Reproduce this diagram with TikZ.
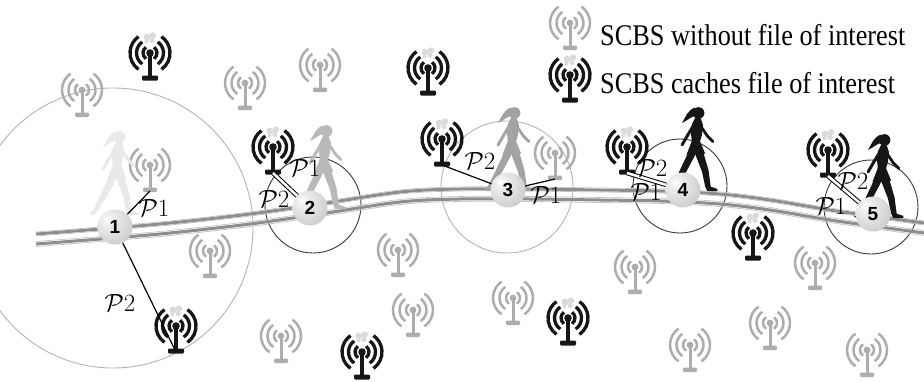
\documentclass[tikz,border=0pt]{standalone}
\usepackage{fontspec}
\setmainfont{Liberation Serif}
\newfontfamily\numfont{Liberation Sans}
\definecolor{antgray}{HTML}{ADADAD}
\definecolor{antblack}{HTML}{161616}
\definecolor{ringdark}{HTML}{3A3A3A}
\definecolor{ringlight}{HTML}{B4B4B4}
\definecolor{roadgray}{HTML}{8E8E8E}

% soft grey sphere used for the user positions
\pgfdeclareradialshading{sphere}{\pgfpoint{-12bp}{12bp}}{%
  color(0bp)=(white); color(7bp)=(gray!12); color(30bp)=(gray!36);
  color(48bp)=(gray!52); color(70bp)=(gray!62)}

% three pairs of radio waves round the antenna tip
\newcommand\radiowaves[1]{%
  \foreach \r in {7,13.5,20}{%
    \draw[line width=#1] (55:\r) arc[start angle=55,end angle=-55,radius=\r];
    \draw[line width=#1] (125:\r) arc[start angle=125,end angle=235,radius=\r];
  }}

% the brushed road centre line
\newcommand\roadline{plot[smooth,tension=0.55] coordinates {(36,239) (100,234) (170,228) (250,219) (320,209) (400,197) (460,194) (530,194) (600,195) (660,196) (720,199) (770,205) (830,215) (880,222) (924,228)}}

\tikzset{
  gant/.pic={
    \begin{scope}[color=antgray]
      \radiowaves{2.5}
      \fill (0,0) circle (3.4);
      \fill (-1.5,0) rectangle (1.5,24);
      \fill[rounded corners=1.2] (-7,22.5) rectangle (7,27);
      \coordinate (-base) at (0,26);
    \end{scope}
  },
  kant/.pic={
    \begin{scope}[color=antblack]
      \fill[gray!28] (-3,-16) circle (3.4) (3,-17.5) circle (3.2) (2,-12.5) circle (2.6) (-3.5,-11.5) circle (2);
      \radiowaves{3.3}
      \fill (0,0) circle (3.8);
      \fill (-1.7,0) rectangle (1.7,24);
      \fill[rounded corners=1.2] (-8,22.5) rectangle (8,27.5);
      \coordinate (-base) at (0,26);
    \end{scope}
  },
  walker/.pic={
    \fill (6,-70) circle (5.3);
    \fill (3,-75) .. controls (-4,-73) and (-6,-66) .. (-9,-61) .. controls (-3,-64) and (0,-67) .. (2,-67) -- cycle;
    \fill (3,-66) -- (8,-65) -- (10,-59) -- (9,-50) -- (7,-43) -- (0,-43) -- (-1,-52) -- (0,-60) -- cycle;
    \fill (0,-45) -- (7,-45) -- (12,-33) -- (-5,-32) -- cycle;
    \fill (-3,-35) -- (4,-34) -- (-5,-17) -- (-14,-3) -- (-17,1) -- (-22,0) -- (-18,-4) -- (-11,-18) -- cycle;
    \fill (2,-35) -- (10,-35) -- (15,-18) -- (17,-3) -- (23,-1) -- (23,1) -- (14,1) -- (12,-3) -- (9,-17) -- cycle;
    \draw[line width=3, line cap=round, line join=round] (1,-58) -- (-5,-48) -- (-9,-41);
    \draw[line width=2.8, line cap=round, line join=round] (8,-58) -- (14,-49) -- (19,-44);
  },
  ring/.style={line width=0.9},
  ue/.style={circle, minimum size=35pt, inner sep=0pt, shading=sphere,
    font=\numfont\bfseries\fontsize{19}{19}\selectfont},
  link/.style={line width=1.2, color=black},
  dlink/.style={line width=1, double=white, double distance=2.6pt},
  plab/.style={font=\fontsize{24.88}{25}\selectfont, inner sep=0pt},
  legend/.style={anchor=base west, inner sep=0pt, font=\fontsize{30}{30}\selectfont}
}

\begin{document}
\begin{tikzpicture}[x=1pt,y=-1pt]
\clip (0,0) rectangle (924,381);
\fill[white] (0,0) rectangle (924,381);

% coverage rings of the five serving positions
\draw[ring, ringlight] (113,228) circle (140);
\draw[ring, ringdark]  (313,205) circle (48);
\draw[ring, ringlight] (507,187) circle (66);
\draw[ring, ringdark]  (680,186) circle (47);
\draw[ring, ringdark]  (871,207) circle (47);

% brushed road, two strands
\begin{scope}[yshift=5pt]
  \draw[roadgray, line width=3] \roadline;
\end{scope}
\begin{scope}[yshift=7pt]
  \draw[gray!45, line width=0.8] \roadline;
\end{scope}
\begin{scope}[yshift=3pt]
  \draw[gray!50, line width=0.7] \roadline;
\end{scope}
\begin{scope}[yshift=-5pt]
  \draw[roadgray, line width=3] \roadline;
\end{scope}
\begin{scope}[yshift=-7.5pt]
  \draw[gray!45, line width=0.8] \roadline;
\end{scope}
\begin{scope}[yshift=-2.5pt]
  \draw[gray!50, line width=0.6] \roadline;
\end{scope}

% small cells without the file
\pic (g1)  at (82,90)   {gant};
\pic (g2)  at (245,83)  {gant};
\pic (g3)  at (320,65)  {gant};
\pic (g4)  at (570,23)  {gant};
\pic (g5)  at (150,165) {gant};
\pic (g6)  at (210,251) {gant};
\pic (g7)  at (281,336) {gant};
\pic (g8)  at (555,153) {gant};
\pic (g9)  at (398,250) {gant};
\pic (g10) at (413,310) {gant};
\pic (g11) at (513,298) {gant};
\pic (g12) at (635,267) {gant};
\pic (g13) at (815,263) {gant};
\pic (g14) at (770,323) {gant};
\pic (g15) at (690,345) {gant};
\pic (g16) at (867,350) {gant};

% small cells caching the file
\pic (k1)  at (150,53)  {kant};
\pic (k2)  at (428,68)  {kant};
\pic (k3)  at (570,75)  {kant};
\pic (k4)  at (176,326) {kant};
\pic (k5)  at (273,147) {kant};
\pic (k6)  at (442,139) {kant};
\pic (k7)  at (627,147) {kant};
\pic (k8)  at (828,150) {kant};
\pic (k9)  at (753,233) {kant};
\pic (k10) at (362,352) {kant};
\pic (k11) at (568,318) {kant};

% the user walking along the road
\pic[scale=1.1, color=gray!17] at (113,214) {walker};
\pic[scale=1.1, color=gray!55] at (320,208) {walker};
\pic[scale=1.1, color=gray!72] at (508,190) {walker};
\pic[scale=1.1, color=antblack] at (692,190) {walker};
\pic[scale=1.1, color=antblack] at (878,217) {walker};

% user positions
\node[ue] (b1) at (115,227) {1};
\node[ue] (b2) at (310,208) {2};
\node[ue] (b3) at (508,190) {3};
\node[ue] (b4) at (683,190) {4};
\node[ue] (b5) at (873,214) {5};

% links to the serving cells
\draw[link] (b1) -- (g5-base);
\draw[link] (b1) -- (k4-base);
\draw[dlink] (k5-base) -- (b2);
\draw[link] (k6-base) -- (b3);
\draw[link] (b3) -- (g8-base);
\draw[dlink] (k7-base) -- (b4);
\draw[dlink] (k8-base) -- (b5);

% link labels
\node[plab] at (154,208) {$\mathcal{P}1$};
\node[plab] at (120,303) {$\mathcal{P}2$};
\node[plab] at (305,168) {$\mathcal{P}1$};
\node[plab] at (274,199) {$\mathcal{P}2$};
\node[plab] at (480,161) {$\mathcal{P}2$};
\node[plab] at (546,195) {$\mathcal{P}1$};
\node[plab] at (652,168) {$\mathcal{P}2$};
\node[plab] at (646,192) {$\mathcal{P}1$};
\node[plab] at (853,181) {$\mathcal{P}2$};
\node[plab] at (831,206) {$\mathcal{P}1$};

% legend
\node[legend] (l1) at (600,45) {\scalebox{0.876}[1]{SCBS without file of interest}};
\node[legend] (l2) at (600,93) {\scalebox{0.876}[1]{SCBS caches file of interest}};
\end{tikzpicture}
\end{document}
